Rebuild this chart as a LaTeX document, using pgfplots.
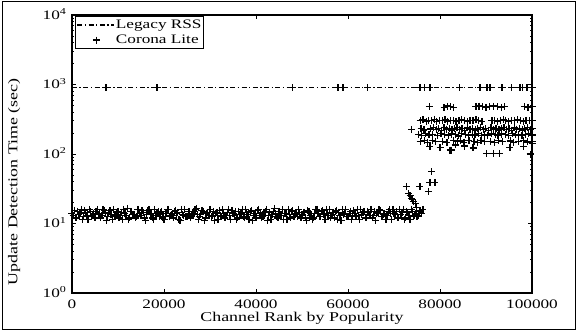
\documentclass[border=0pt]{standalone}
\usepackage{fontspec}
\setmainfont{Liberation Serif}[FakeStretch=1.33]
\usepackage{pgfplots}
\pgfplotsset{compat=1.18}
\begin{document}
\begin{tikzpicture}
\useasboundingbox (-72bp,-38bp) rectangle (505bp,293bp);
\draw[line width=1bp] (-69bp,-36bp) rectangle (503bp,291bp);
\begin{axis}[at={(0,0)}, anchor=south west, scale only axis,
  width=460bp, height=278bp,
  xmin=0, xmax=100000, ymode=log, ymin=1, ymax=10000,
  scaled x ticks=false,
  xtick={0,20000,40000,60000,80000,100000},
  xticklabels={0,20000,40000,60000,80000,100000},
  ytick={1,10,100,1000,10000},
  yticklabels={10\textsuperscript{0},10\textsuperscript{1},10\textsuperscript{2},10\textsuperscript{3},10\textsuperscript{4}},
  tick align=inside, major tick length=4bp, minor tick length=2.5bp,
  axis line style={line width=1.3bp}, every tick/.style={black, line width=0.8bp},
  tick label style={font=\fontsize{13}{15}\selectfont},
  xticklabel style={inner sep=0pt, yshift=-7bp},
  yticklabel style={yshift=1bp, xshift=-2bp},
  xlabel={Channel Rank by Popularity},
  ylabel={Update Detection Time (sec)},
  xlabel style={at={(axis description cs:0.5,0)}, anchor=base, inner sep=0pt, yshift=-28.5bp, font=\fontsize{13.5}{15}\selectfont},
  ylabel style={at={(axis description cs:-0.1185,0.40)}, anchor=base, font=\fontsize{13.5}{15}\selectfont},
  legend style={at={(0.007,0.995)}, anchor=north west, draw=black, line width=0.8bp,
    font=\fontsize{13}{15}\selectfont, inner sep=1bp, row sep=0.5bp,
    nodes={inner sep=1bp, text height=9.5bp, text depth=3bp}},
  legend cell align=left,
  clip=false,
]
\addplot[black, line width=1.3bp, dash pattern=on 5bp off 2.5bp on 1.3bp off 2.5bp,
  legend image code/.code={\draw[black, line width=1.3bp, dash pattern=on 5bp off 2.5bp on 1.3bp off 2.5bp] (0bp,0bp) -- (37bp,0bp);}] coordinates {(0,900) (100000,900)};
\addlegendentry{Legacy RSS}
\addplot[only marks, mark=+, mark size=3.5bp, black, mark options={line width=1.3bp},
  legend image code/.code={\draw[black, line width=1.3bp] plot[only marks, mark=+, mark size=3.5bp] coordinates {(19bp,0bp)}; \path (0bp,0bp) (37bp,0bp);}] coordinates {
(0,14)(500,15.5)(1000,12)(1500,13.5)(2000,16)(2500,12.5)(3000,14.5)(3500,11.5)(4000,15)(4500,13)
(5000,12)(5500,16)(6000,14)(6500,13)(7000,15.5)(7500,11)(8000,14.5)(8500,13.5)(9000,16)(9500,12.5)
(10000,15)(10500,13)(11000,11.5)(11500,14)(12000,16.5)(12500,12)(13000,15)(13500,13.5)(14000,12.5)(14500,16)
(15000,13)(15500,14.5)(16000,11)(16500,15.5)(17000,13.5)(17500,12)(18000,16)(18500,14)(19000,12.5)(19500,15)
(20000,11.5)(20500,14)(21000,16)(21500,13)(22000,12)(22500,15.5)(23000,14.5)(23500,11)(24000,13.5)(24500,16)
(25000,12.5)(25500,15)(26000,13)(26500,14)(27000,16.5)(27500,11.5)(28000,13.5)(28500,15)(29000,12)(29500,14.5)
(30000,16)(30500,13)(31000,11)(31500,14.5)(32000,15.5)(32500,12.5)(33000,14)(33500,13)(34000,16)(34500,11.5)
(35000,14)(35500,15)(36000,12)(36500,13.5)(37000,16)(37500,12)(38000,14.5)(38500,11.5)(39000,15.5)(39500,13)
(40000,12)(40500,16)(41000,14)(41500,12.5)(42000,15)(42500,11)(43000,14.5)(43500,13.5)(44000,16.5)(44500,12.5)
(45000,15)(45500,13)(46000,11.5)(46500,14)(47000,16)(47500,12)(48000,15.5)(48500,13.5)(49000,12.5)(49500,14.5)
(50000,13.5)(50500,14.5)(51000,11)(51500,15)(52000,13)(52500,12)(53000,16)(53500,14)(54000,12.5)(54500,15.5)
(55000,11.5)(55500,14)(56000,16)(56500,13)(57000,12)(57500,15.5)(58000,14.5)(58500,11)(59000,13.5)(59500,16)
(60000,12.5)(60500,15)(61000,13)(61500,14)(62000,16)(62500,11.5)(63000,13.5)(63500,15)(64000,12)(64500,14.5)
(65000,16)(65500,13)(66000,11)(66500,14.5)(67000,15.5)(67500,12.5)(68000,14)(68500,13)(69000,16)(69500,11.5)
(70000,14)(70500,15)(71000,12)(71500,13.5)(72000,16)(72500,12)(73000,14.5)(73500,11.5)(74000,15)(74500,13)
(75000,12.5)(75500,15)(76000,14)
(250,13)(750,12)(1250,15)(1750,14)(2250,11.5)(2750,15.5)(3250,13)(3750,16)(4250,12.5)(4750,14)
(5250,15)(5750,13.5)(6250,12)(6750,16)(7250,14)(7750,12.5)(8250,15.5)(8750,11.5)(9250,13)(9750,14.5)
(10250,12)(10750,14.5)(11250,16)(11750,13)(12250,11.5)(12750,15)(13250,13.5)(13750,12)(14250,16)(14750,14)
(15250,15.5)(15750,12)(16250,13.5)(16750,16)(17250,14)(17750,11.5)(18250,13)(18750,15)(19250,14.5)(19750,12)
(20250,14)(20750,16)(21250,12.5)(21750,13)(22250,15)(22750,14)(23250,11.5)(23750,16)(24250,13)(24750,12.5)
(25250,15)(25750,12)(26250,14)(26750,16)(27250,13.5)(27750,12.5)(28250,15.5)(28750,11)(29250,14)(29750,13)
(30250,12.5)(30750,15)(31250,14)(31750,11.5)(32250,13)(32750,16)(33250,12)(33750,14.5)(34250,13)(34750,15.5)
(35250,13)(35750,11.5)(36250,15)(36750,14)(37250,12.5)(37750,16)(38250,13.5)(38750,15)(39250,11)(39750,14)
(40250,15.5)(40750,13)(41250,12)(41750,14.5)(42250,16)(42750,13)(43250,11.5)(43750,15)(44250,14)(44750,12)
(45250,13)(45750,16)(46250,14)(46750,11.5)(47250,13.5)(47750,15)(48250,12.5)(48750,14)(49250,16)(49750,12)
(50250,14.5)(50750,12)(51250,15.5)(51750,13)(52250,11.5)(52750,14)(53250,16)(53750,12.5)(54250,15)(54750,13.5)
(55250,16)(55750,13)(56250,12)(56750,14.5)(57250,15)(57750,11.5)(58250,13)(58750,16)(59250,14)(59750,12.5)
(60250,14)(60750,11.5)(61250,15.5)(61750,12.5)(62250,13)(62750,16)(63250,14.5)(63750,12)(64250,15)(64750,13)
(65250,12)(65750,15)(66250,14)(66750,16)(67250,12.5)(67750,13.5)(68250,11.5)(68750,15)(69250,14)(69750,16)
(70250,13.5)(70750,12)(71250,16)(71750,14.5)(72250,11.5)(72750,15)(73250,13)(73750,16)(74250,12.5)(74750,14)
(75250,13)(75750,15.5)
(72700,34)(73100,27)(73500,25)(73850,23)(74000,22)(74200,20.5)(74600,19.5)(74900,17)(75650,34)(76300,16)
(77450,29)(77800,39)(78900,39)(78200,56)(82200,114)(83300,135)
(7400,900)(18500,900)(48000,900)(57800,900)(58900,900)(64300,900)(75650,900)(76700,900)(77800,900)
(84300,900)(88700,900)(90200,900)(90900,900)(93500,900)(95600,900)(97400,900)(98000,900)(98900,900)(100000,900)
(77700,480)(80900,470)(81600,490)(82300,480)(83000,470)(87800,480)(88500,490)(89300,480)(90000,470)
(90800,480)(91700,490)(92500,480)(93300,470)(94000,480)(98400,480)(99100,470)(100000,480)
(75700,300)(76300,310)(77000,295)(77500,305)(78100,300)(78800,315)(79300,295)(79900,305)(80500,300)(81100,310)
(81600,295)(82300,300)(82900,305)(83500,295)(84100,300)(84600,310)(85300,300)(86000,295)(86500,305)(87200,300)
(87800,310)(88400,300)(89100,295)(91300,300)(91900,305)(92500,295)(93100,300)(93800,310)(94300,300)(94900,295)
(95500,305)(96200,300)(96800,310)(97500,300)(98100,295)(98700,305)(99400,300)(100000,300)
(73850,227)(75900,235)(76500,222)(78000,230)(78600,240)(79200,225)(79700,232)(80300,220)(80900,238)(81400,228)
(82000,235)(82600,222)(83100,230)(83700,240)(84300,225)(84800,232)(85400,220)(86000,238)(86500,228)(87100,235)
(87700,222)(88200,230)(88800,240)(89400,225)(89900,232)(90500,220)(91100,238)(91600,228)(92200,235)(92800,222)
(93300,230)(93900,240)(94500,225)(95000,232)(95600,220)(96200,238)(96700,228)(97300,235)(97900,222)(98400,230)
(99000,240)(99600,225)(100000,232)
(75300,190)(76000,185)(76800,195)(77600,188)(78400,192)(79500,183)(80200,196)(81000,190)(81800,186)(82500,194)
(83400,189)(84000,182)(84700,195)(85600,190)(86200,186)(87000,193)(87600,188)(88300,197)(89000,184)(89700,191)
(90400,187)(91200,195)(92000,189)(92600,183)(93400,194)(94200,190)(94900,186)(95700,196)(96400,188)(97100,192)
(97800,184)(98600,190)(99300,195)(100000,188)
(75700,150)(76600,155)(77300,148)(78300,158)(79000,150)(80600,153)(81500,147)(82900,156)(83800,150)(84500,154)
(85200,148)(86300,157)(87400,151)(88100,146)(88900,155)(89600,150)(91000,153)(91800,148)(92700,156)(93600,150)
(95300,154)(96000,147)(97000,152)(98200,157)(99000,149)(100000,153)
(77800,128)(80000,125)(82500,114)(85400,130)(87200,122)(95200,125)(98100,128)(100000,140)
(90150,102)(91600,102)(93000,102)(99600,100)
};
\addlegendentry{Corona Lite}
\end{axis}
\end{tikzpicture}
\end{document}
